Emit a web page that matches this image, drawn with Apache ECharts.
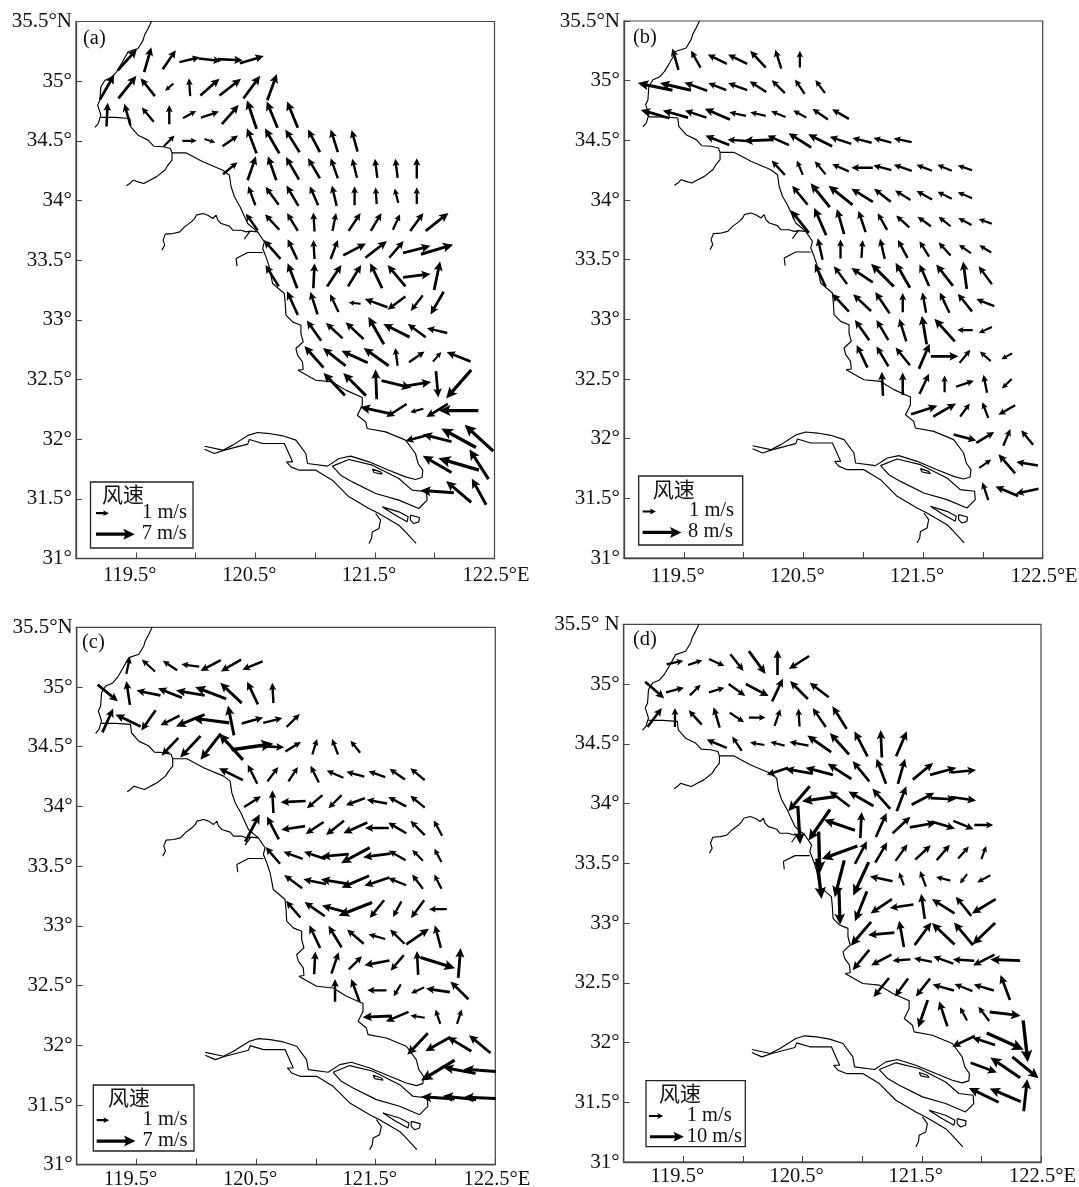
<!DOCTYPE html>
<html><head><meta charset="utf-8">
<style>html,body{margin:0;padding:0;background:#fff}#c{width:1079px;height:1187px}</style>
<script src="https://cdn.jsdelivr.net/npm/echarts@6/dist/echarts.min.js"></script>
</head><body><div id="c"></div>
<script>
// Model grid shared by all panels: arrows are centred on these points
const lons=[119.26,119.43,119.60,119.78,119.95,120.12,120.29,120.47,120.64,120.81,120.99,121.16,121.33,121.51,121.68,121.85,122.02,122.20,122.37];
const lats=[35.18,34.95,34.72,34.50,34.27,34.04,33.82,33.59,33.37,33.14,32.91,32.69,32.46,32.24,32.01,31.79,31.56];
// Each row: first column index, then (east, north) span of each arrow in 0.01 deg
const rowsA=[
[1,16,18,6,21,11,16,17,4,19,-2,21,-1,20,6],
[0,12,21,15,19,-12,15,-7,-6,-1,15,16,14,18,14,14,19,8,22],
[0,1,20,-5,18,-10,12,0,16,11,6,15,5,14,16,-8,24,-9,22,-9,22],
[3,9,9,12,0,9,-3,13,9,-8,21,-12,21,-12,19,-10,19,-6,19,-5,18],
[6,12,10,7,20,-7,20,-11,19,-10,17,-6,17,-4,16,-2,16,-2,16,0,17],
[7,-6,16,-11,15,-10,17,-7,16,-4,17,0,16,-1,14,-3,12,0,14],
[7,-10,14,-12,13,-9,15,-1,16,3,15,10,15,9,15,6,13,11,15,19,15],
[8,-14,16,-8,17,-1,16,6,16,19,10,18,14,12,14,23,6,27,8],
[8,-11,18,-8,21,1,21,12,18,11,18,-10,21,-15,18,23,3,5,24],
[9,-9,20,-6,19,-7,15,-10,1,-19,7,-15,-11,-10,-13,-11,-19],
[10,-12,17,-14,13,-15,14,-13,23,-22,11,-15,11,-17,4],
[10,-16,18,-19,15,-22,10,-21,15,-2,15,13,9,7,8,-20,8],
[11,-18,19,-19,19,-1,25,25,-6,24,4,2,-22,-21,-24],
[13,-27,6,-17,-11,-11,-3,-18,-11,-33,0],
[15,-19,-5,-24,6,-29,16,-24,22],
[16,-24,14,-34,10,-16,25],
[16,-28,2,-21,18,-12,22]];
const rowsB=[
[1,-5,18,-8,14,-16,8,-16,8,-13,14,-5,16,0,14],
[0,-29,6,-26,6,-19,7,-15,6,-16,6,-14,9,-11,11,-8,12,-8,11],
[0,-24,7,-21,6,-18,6,-21,9,-14,3,-13,3,-12,5,-11,6,-13,9,-14,8],
[3,-20,8,-17,1,-24,-1,-18,8,-19,12,-20,10,-18,6,-16,4,-15,4,-15,3],
[6,-11,12,-5,12,-9,11,-14,6,-18,0,-15,4,-15,5,-13,5,-12,5,-12,4],
[7,-13,16,-16,20,-20,16,-18,11,-14,11,-13,8,-13,7,-12,6,-12,5],
[7,-15,19,-10,23,-6,21,-6,18,-8,14,-11,10,-11,8,-10,8,-11,6,-11,4],
[8,-4,18,0,16,1,15,-4,17,-8,15,-8,13,-10,11,-10,7,-10,6],
[8,-9,19,-11,15,-18,12,-19,19,-12,21,-8,18,-14,18,-3,23,-11,15],
[9,-14,15,-15,14,-12,18,0,16,-3,17,-8,17,-12,15,-15,6],
[10,-12,17,-10,17,-6,19,-4,24,-17,19,-13,0,-11,-5],
[10,-9,19,-10,17,-12,15,9,21,23,0,9,11,-9,8,-9,-5],
[11,-1,20,0,19,8,17,0,14,15,5,-3,15,-8,-8],
[13,22,7,19,11,8,11,-5,13,-14,-8],
[15,19,-5,15,9,6,14,-10,12],
[16,10,7,-14,16,-18,3],
[16,-5,15,-19,8,-19,-4]];
const rowsC=[
[1,3,14,-11,10,-12,8,-15,2,-17,-9,-17,-10,-17,-7],
[0,17,-14,-3,20,-20,4,-20,8,-24,4,-26,10,-18,17,-9,19,-1,17],
[0,9,20,-21,10,-12,-17,-16,-8,-24,-10,-31,4,-5,25,18,5,16,4,11,11],
[3,-14,-15,-17,-18,-17,-22,-20,22,35,5,19,-1,13,8,4,13,-5,13,-8,10],
[6,-20,10,-8,16,9,12,8,12,-7,14,-14,6,-15,4,-14,5,-13,9,-12,10],
[7,14,9,-1,19,-21,-1,-13,-11,-11,-11,-16,-6,-17,3,-15,8,-12,10],
[7,12,23,-10,19,-20,-3,-15,-10,-15,-12,-20,-9,-20,0,-15,9,-12,12,-7,13],
[8,-12,14,-16,6,-18,6,-23,-2,-24,-13,-23,-3,-14,8,-9,9,-6,11],
[9,-15,11,-19,4,-24,4,-23,-10,-21,-7,-15,6,-9,12,-6,12],
[9,-12,14,-17,12,-22,6,-28,-11,-12,-15,-7,-13,-11,-15,-15,0],
[10,-9,19,-11,18,-14,12,-14,4,-12,12,19,13,-5,19],
[10,1,19,6,18,11,11,-21,-4,-11,-13,-1,20,29,-9,2,25],
[11,0,19,-7,19,-16,0,-6,-10,-11,-5,-20,3,-15,15],
[13,-24,-1,-19,-8,-12,2,-4,12,4,12],
[15,-17,-18,-21,-12,-20,12,-18,15],
[16,-28,-17,-27,5,-27,2],
[16,-28,2,-28,3,-27,1]];
const rowsD=[
[1,14,3,12,4,13,-6,11,-14,14,-19,0,21,-17,-11],
[0,16,-14,15,4,9,9,13,4,14,-10,19,-10,9,19,-15,15,-16,12],
[0,12,16,0,16,-11,12,-5,17,12,-8,14,0,5,14,-1,15,-11,16,-12,19],
[3,-17,7,-8,12,-12,2,-12,3,-16,3,-20,14,-16,18,-11,21,-1,23,9,21],
[6,-18,-6,-23,4,-23,6,-20,13,-14,17,-8,21,6,21,17,14,22,6,21,2],
[7,-18,-21,-29,-4,-17,13,-21,12,-15,17,8,21,19,10,21,-1,21,-3],
[7,2,-32,-18,-26,-26,9,1,22,9,20,15,14,22,4,20,-6,17,-7,16,0],
[8,1,-35,-30,-11,10,19,10,17,10,14,13,12,11,13,9,10,4,11],
[8,4,-34,-8,-31,-13,-28,-19,4,-4,11,-5,13,-12,3,-6,-8,-11,-6],
[9,1,-31,-10,-25,-18,-12,-20,-3,-3,21,-19,12,-13,16,-20,-12],
[10,-17,-20,-22,-2,-4,22,14,19,-19,18,-16,19,-19,-18],
[10,-14,-17,-17,-9,-15,-1,-15,3,-17,6,-18,1,-18,-9,-25,1],
[11,-13,-16,-11,-15,-12,-15,-18,5,-15,6,-17,5,-8,21],
[13,-8,-23,-7,21,-6,11,-9,12,26,-3],
[15,-19,-9,-19,6,31,-14,4,-35],
[16,22,-8,-25,17,22,-18],
[16,-25,12,-26,11,3,27]];
// Coast and rivers, [lon, lat]
const coastNorth=[[119.631,35.5],[119.603,35.441],[119.575,35.39],[119.561,35.344],[119.519,35.274],[119.436,35.246],[119.381,35.148],[119.339,35.078],[119.297,35.031],[119.242,35.008],[119.208,34.953],[119.2,34.841],[119.181,34.799],[119.208,34.715],[119.186,34.645],[119.158,34.612]];
const coastMain=[[119.208,34.696],[119.325,34.696],[119.45,34.687],[119.458,34.617],[119.519,34.547],[119.603,34.506],[119.65,34.455],[119.728,34.45],[119.789,34.436],[119.803,34.399],[119.922,34.399],[120.061,34.324],[120.228,34.254],[120.283,34.212],[120.297,34.115],[120.325,34.031],[120.372,33.947],[120.436,33.807],[120.519,33.737],[120.575,33.654],[120.561,33.598],[120.589,33.528],[120.617,33.444],[120.644,33.304],[120.742,33.221],[120.75,33.137],[120.756,33.039],[120.811,32.983],[120.881,32.955],[120.881,32.885],[120.9,32.816],[120.839,32.76],[120.853,32.704],[120.894,32.648],[120.9,32.584],[120.858,32.578],[120.964,32.517],[121.006,32.494],[121.144,32.48],[121.256,32.411],[121.394,32.349],[121.394,32.285],[121.381,32.257],[121.353,32.201],[121.422,32.145],[121.436,32.089],[121.589,32.061],[121.756,31.992],[121.839,31.88],[121.861,31.796],[121.9,31.74],[121.894,31.679],[121.839,31.662],[121.756,31.684],[121.617,31.74],[121.45,31.81],[121.297,31.858],[121.2,31.838],[121.103,31.774],[120.936,31.796],[120.922,31.88],[120.839,31.992],[120.728,32.028],[120.617,32.047],[120.519,32.056],[120.444,32.034],[120.311,31.95],[120.228,31.908],[120.075,31.941]];
const riverGuan=[[119.803,34.399],[119.803,34.338],[119.769,34.296],[119.742,34.254],[119.672,34.198],[119.617,34.17],[119.567,34.142],[119.519,34.156],[119.478,34.17],[119.45,34.142],[119.422,34.123]];
const riverHuai=[[120.519,33.737],[120.456,33.743],[120.408,33.676],[120.456,33.743],[120.422,33.737],[120.381,33.751],[120.311,33.751],[120.283,33.785],[120.214,33.807],[120.186,33.835],[120.172,33.877],[120.144,33.849],[120.103,33.877],[120.061,33.891],[120.006,33.877],[119.992,33.849],[119.964,33.821],[119.908,33.779],[119.867,33.737],[119.811,33.723],[119.747,33.718],[119.728,33.668],[119.742,33.626],[119.719,33.584]];
const riverShe=[[120.561,33.564],[120.436,33.564],[120.339,33.514],[120.347,33.45]];
const bankSouth=[[120.075,31.916],[120.158,31.88],[120.242,31.908],[120.436,31.958],[120.45,31.997],[120.561,31.964],[120.742,31.964],[120.811,31.81],[120.761,31.81],[120.797,31.768],[120.867,31.74],[121.006,31.74],[121.144,31.656],[121.283,31.517],[121.45,31.419],[121.533,31.377],[121.7,31.279],[121.742,31.237],[121.844,31.126]];
const islandChongming=[[121.144,31.774],[121.283,31.83],[121.478,31.782],[121.7,31.67],[121.811,31.573],[121.931,31.559],[121.936,31.489],[121.867,31.419],[121.7,31.489],[121.506,31.545],[121.311,31.642],[121.214,31.698],[121.144,31.774]];
const islandSmall=[[121.478,31.749],[121.547,31.726],[121.561,31.707],[121.492,31.721],[121.478,31.749]];
const islandHengsha=[[121.561,31.433],[121.7,31.391],[121.778,31.349],[121.769,31.307],[121.658,31.371],[121.561,31.433]];
const islandJiuduan=[[121.797,31.363],[121.872,31.344],[121.867,31.307],[121.825,31.293],[121.797,31.321],[121.797,31.363]];
const riverHuangpu=[[121.506,31.377],[121.547,31.321],[121.533,31.251],[121.478,31.223],[121.472,31.168],[121.45,31.126]];
const outlines=[coastNorth,coastMain,riverGuan,riverHuai,riverShe,bankSouth,islandChongming,islandSmall,islandHengsha,islandJiuduan,riverHuangpu];
// Panel furniture
const panelNames=['(a)','(b)','(c)','(d)'];
const panelRows=[rowsA,rowsB,rowsC,rowsD];
const refSpeeds=['7 m/s','8 m/s','7 m/s','10 m/s'];
const legendTitle='风速';
const unitLabel='1 m/s';
const xLabels=[119.5,120.5,121.5,122.5];
// Legend arrows: tail lon, lat, eastward span in deg  (1 m/s, then reference speed)
const legendArrows=[
[[119.167,31.38,0.108],[119.167,31.204,0.325]],
[[119.156,31.39,0.111],[119.156,31.214,0.325]],
[[119.167,31.373,0.105],[119.167,31.198,0.325]],
[[119.212,31.385,0.12],[119.22,31.212,0.285]]];

const grids=[
{left:76,top:21.5,width:418.5,height:537},
{left:624,top:21,width:418.7,height:537},
{left:76.7,top:627.3,width:418.6,height:537.4},
{left:623.7,top:624.3,width:417.3,height:537.7}];
const xLabelMargins=[7,8,4.5,4.5];
const legendBoxes=[
{x:90.5,y:482,w:102.5,h:66,tx:102,ty:494,ux:142,uy:513,rx:141.7,ry:534,lx:83,ly:39},
{x:638.7,y:476,w:104,h:69,tx:652.7,ty:489,ux:689,uy:511,rx:688,ry:532,lx:633,ly:38},
{x:93.3,y:1085,w:100.7,h:66,tx:108,ty:1097,ux:142.5,uy:1120,rx:142.5,ry:1141,lx:82,ly:643},
{x:646,y:1080.7,w:99.3,h:66,tx:659,ty:1092.7,ux:686.7,uy:1116,rx:686.7,ry:1136.7,lx:633,ly:640}];

const SERIF='"Liberation Serif","Times New Roman",serif';
const INK='#111';

function arrowShape(x0,y0,x1,y1){
  const dx=x1-x0,dy=y1-y0,L=Math.hypot(dx,dy)||1,ux=dx/L,uy=dy/L,nx=-uy,ny=ux;
  const lh=Math.min(L*0.6,3+0.22*L),hw=1.6+0.1*L,sw=(1.5+0.045*L)/2;
  const bx=x1-ux*lh,by=y1-uy*lh;
  const nb=0.85*lh; const mx=x1-ux*nb,my=y1-uy*nb;
  return [[x0+nx*sw,y0+ny*sw],[mx+nx*sw,my+ny*sw],[bx+nx*hw,by+ny*hw],[x1,y1],[bx-nx*hw,by-ny*hw],[mx-nx*sw,my-ny*sw],[x0-nx*sw,y0-ny*sw]];
}
function renderArrow(params,api){
  const a=api.coord([api.value(0),api.value(1)]),b=api.coord([api.value(2),api.value(3)]);
  return {type:'polygon',shape:{points:arrowShape(a[0],a[1],b[0],b[1])},style:{fill:'#000'}};
}
function fieldData(rows){
  const out=[];
  rows.forEach((r,i)=>{
    for(let k=1,c=r[0];k<r.length;k+=2,c++){
      const du=r[k]/100,dv=r[k+1]/100;
      out.push([lons[c]-du/2,lats[i]-dv/2,lons[c]+du/2,lats[i]+dv/2]);
    }
  });
  return out;
}
const xAxis=[],yAxis=[],series=[],graphic=[];
grids.forEach((g,p)=>{
  xAxis.push({gridIndex:p,type:'value',min:119,max:122.5,interval:0.5,
    axisLine:{show:true,onZero:false,lineStyle:{color:'#444',width:1.3}},
    axisTick:{show:true,inside:true,length:6,lineStyle:{color:'#444',width:1}},
    splitLine:{show:false},
    axisLabel:{show:true,showMinLabel:true,showMaxLabel:true,hideOverlap:false,margin:xLabelMargins[p],fontFamily:SERIF,fontSize:20.5,color:INK,
      padding:[0,12,0,0],
      rich:{e:{fontFamily:SERIF,fontSize:20.5,color:INK,padding:[0,0,0,15]}},
      formatter:v=>xLabels.indexOf(v)<0?'':(v===122.5?'{e|'+v+'°E}':v+'°')}});
  yAxis.push({gridIndex:p,type:'value',min:31,max:35.5,interval:0.5,
    axisLine:{show:true,onZero:false,lineStyle:{color:'#444',width:1.3}},
    axisTick:{show:true,inside:true,length:6,lineStyle:{color:'#444',width:1}},
    splitLine:{show:false},
    axisLabel:{show:true,showMinLabel:true,showMaxLabel:true,hideOverlap:false,margin:4,fontFamily:SERIF,fontSize:21,color:INK,
      padding:[4,0,0,0],
      formatter:v=>v===35.5?(p===3?'35.5° N':'35.5°N'):v+'°'}});
  outlines.forEach(o=>series.push({type:'line',xAxisIndex:p,yAxisIndex:p,data:o,showSymbol:false,symbol:'none',silent:true,clip:true,z:2,animation:false,
    lineStyle:{color:'#000',width:1.15}}));
  series.push({type:'custom',xAxisIndex:p,yAxisIndex:p,data:fieldData(panelRows[p]),renderItem:renderArrow,clip:true,silent:true,z:4,animation:false,
    encode:{x:[0,2],y:[1,3]}});
  const la=legendArrows[p];
  series.push({type:'custom',xAxisIndex:p,yAxisIndex:p,data:la.map(a=>[a[0],a[1],a[0]+a[2],a[1]]),renderItem:renderArrow,silent:true,z:6,animation:false,
    encode:{x:[0,2],y:[1,3]}});
  const b=legendBoxes[p];
  const t=(text,x,y,size,fam)=>({type:'text',x,y,z:8,silent:true,style:{text,x:0,y:0,fill:INK,font:size+'px '+fam,textVerticalAlign:'middle',verticalAlign:'middle'}});
  graphic.push({type:'rect',z:7,silent:true,shape:{x:b.x,y:b.y,width:b.w,height:b.h},style:{fill:'none',stroke:'#222',lineWidth:1.3}});
  graphic.push(t(legendTitle,b.tx,b.ty,21,'"Noto Sans CJK SC"'));
  graphic.push(t(unitLabel,b.ux,b.uy,20.5,SERIF));
  graphic.push(t(refSpeeds[p],b.rx,b.ry,20.5,SERIF));
  graphic.push(t(panelNames[p],b.lx,b.ly,20.5,SERIF));
});
const option={animation:false,backgroundColor:'#fff',
  grid:grids.map(g=>Object.assign({show:true,borderColor:'#444',borderWidth:1.2,backgroundColor:'transparent',containLabel:false,outerBoundsMode:'none'},g)),
  xAxis,yAxis,series,graphic};
const chart=echarts.init(document.getElementById('c'),null,{renderer:'canvas',width:1079,height:1187});
chart.setOption(option);
</script></body></html>
